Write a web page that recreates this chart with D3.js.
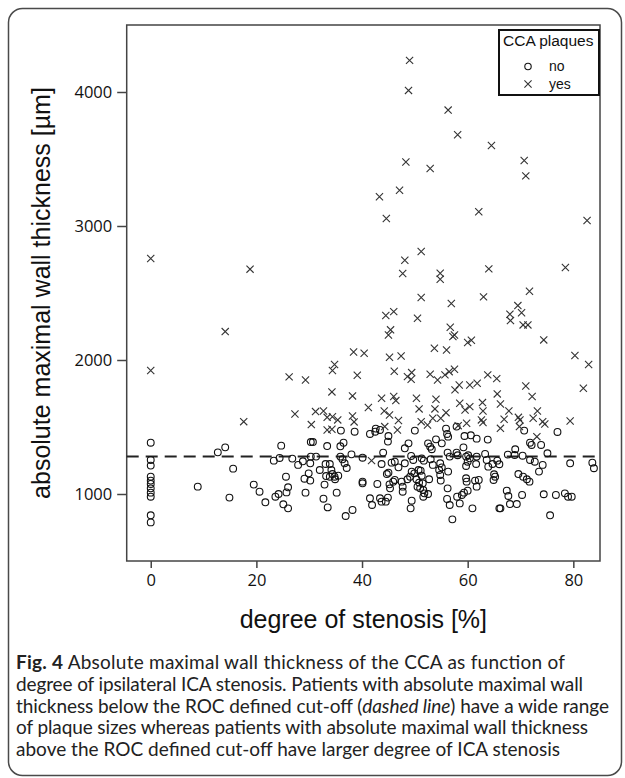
<!DOCTYPE html>
<html><head><meta charset="utf-8">
<script src="https://cdn.jsdelivr.net/npm/d3@7"></script>
<style>body{margin:0;background:#fff}</style>
</head><body>
<svg id="c" width="625" height="778"></svg>
<script>
const xTicks = [0, 20, 40, 60, 80];
const yTicks = [1000, 2000, 3000, 4000];
const cutoff = 1280;
const legendTitle = "CCA plaques";
const legendLabels = ["no", "yes"];
const xTitle = "degree of stenosis [%]";
const yTitle = "absolute maximal wall thickness [µm]";

// CCA plaques = no  [degree of stenosis %, wall thickness µm]
const plaqueNo = [
[0,1383],[0,1254],[0,1212],[0,1129],[0,1100],[0,1075],[0,1042],[0,1010],[0,980],[0,841],[0,788],
[8.9,1055],[12.7,1311],[14.1,1348],[15.6,1189],[14.9,973],[19.5,1070],[20.6,1017],[21.7,938],[23.6,980],
[24.2,1000],[25.1,923],[26.0,893],[25.7,1012],[26.0,1050],[25.6,1129],[23.3,1249],[24.4,1269],[24.7,1361],
[26.8,1264],[27.9,1217],[28.8,1244],[30.2,1229],[30.3,1279],[31.3,1279],[30.3,1388],[30.7,1388],[29.9,1154],
[29.1,1114],[30.2,1100],[29.3,1010],[32.0,1179],[33.1,1224],[33.9,1224],[33.4,1358],[34.2,1179],[33.2,1134],
[33.9,1129],[34.4,1149],[34.8,1129],[34.9,1110],[35.5,1137],[32.9,1070],[32.7,965],[33.5,900],[35.2,1010],
[36.0,1473],[36.5,1383],[35.9,1356],[35.9,1279],[36.3,1259],[36.7,1229],[37.1,1194],[38.0,1296],[38.6,1465],
[38.2,881],[36.9,836],
[42.6,1488],[42.5,1465],[41.5,1448],[43.4,1478],[45.0,1433],[44.9,1391],[50.0,1473],[55.9,1488],[56.1,1448],
[56.3,1428],[57.9,1503],[59.4,1433],[60.6,1438],[61.7,1413],[63.8,1406],[54.0,1408],[52.5,1378],[52.9,1353],
[53.2,1334],[55.1,1378],[48.8,1378],[48.1,1341],[70.7,1473],[71.8,1383],[72.1,1366],[73.9,1366],[77.0,1463],
[40.1,1271],[44.0,1309],[43.7,1224],[45.6,1234],[46.2,1241],[46.9,1199],[48.1,1229],[49.3,1284],[49.7,1254],
[51.3,1266],[51.7,1249],[53.0,1259],[53.4,1217],[54.8,1229],[55.1,1199],[54.6,1179],[56.2,1309],[56.6,1279],
[57.9,1309],[58.1,1289],[59.2,1348],[59.7,1279],[60.1,1289],[60.4,1266],[59.7,1209],[60.0,1241],[61.7,1279],
[61.6,1224],[63.3,1299],[63.6,1254],[63.9,1204],[64.7,1224],[65.6,1249],[66.0,1222],[67.6,1294],[69.0,1334],
[68.9,1291],[70.4,1286],[71.8,1254],[72.7,1241],[74.2,1217],[75.1,1304],[79.4,1229],[83.6,1234],[83.9,1192],
[44.7,1149],[45.0,1159],[46.2,1105],[47.5,1092],[48.6,1110],[49.4,1167],[49.1,1129],[49.9,1154],[50.7,1179],
[51.1,1174],[51.3,1137],[50.3,1110],[50.8,1085],[51.5,1080],[52.7,1110],[54.8,1142],[54.9,1100],[56.3,1167],
[59.7,1117],[59.8,1092],[61.4,1100],[62.1,1105],[61.7,1055],[65.0,1147],[65.2,1129],[64.9,1105],[69.6,1149],
[70.5,1129],[71.2,1110],[71.7,1092],[73.5,1167],[40.1,1092],[40.1,1080],[42.9,1075],[45.2,1072],[45.9,1092],
[45.3,1042],[47.7,1055],[47.7,1017],[50.5,1055],[51.0,1042],[51.6,1030],[51.8,1005],[52.5,1000],[51.6,980],
[49.4,950],[49.2,893],[41.5,968],[41.9,918],[43.4,968],[43.7,943],[44.5,943],[44.9,973],[56.2,1042],[56.1,963],
[56.6,918],[58.0,980],[58.5,930],[58.9,993],[59.3,1010],[60.0,1025],[60.9,893],[66.0,893],[66.2,893],[67.4,1025],
[67.7,985],[68.0,925],[69.3,925],[70.3,993],[74.4,998],[76.7,993],[78.4,1005],[79.0,980],[79.7,980],[75.6,841],
[57.1,811]
];

// CCA plaques = yes
const plaqueYes = [
[49.0,4236],[48.8,4012],[56.3,3865],[58.1,3681],[64.5,3601],[48.3,3477],[52.9,3429],[70.7,3489],[71.0,3374],
[47.1,3267],[43.3,3218],[44.6,3056],[62.1,3106],[82.6,3041],[0,2757],[18.8,2678],[51.2,2810],[48.1,2745],
[47.7,2645],[54.8,2648],[54.8,2603],[64.0,2680],[78.5,2690],[51.2,2466],[56.9,2421],[63.0,2471],[71.7,2513],
[69.5,2406],[70.2,2352],[68.0,2342],[68.1,2294],[70.5,2262],[71.4,2262],[44.5,2332],[46.0,2361],[50.5,2312],
[56.7,2245],[57.5,2187],[57.2,2175],[45.4,2225],[45.0,2187],[14.1,2212],
[60.0,2130],[60.7,2148],[74.4,2150],[45.2,2020],[47.4,2030],[53.7,2088],[56.0,2075],[80.3,2033],[82.9,1966],
[81.9,1789],[46.1,1916],[48.6,1876],[49.4,1906],[49.3,1856],[52.9,1894],[54.3,1851],[55.7,1889],[56.5,1913],
[57.5,1931],[57.6,1777],[58.4,1814],[60.4,1814],[61.8,1826],[63.8,1889],[65.5,1861],[71.0,1806],[72.2,1727],
[65.6,1747],[66.2,1672],[67.8,1620],[66.9,1558],[66.2,1490],[69.6,1572],[69.9,1553],[69.8,1503],[72.4,1565],
[73.2,1620],[74.2,1540],[74.6,1523],[73.1,1428],[79.4,1545],[43.7,1714],[41.2,1645],[46.0,1727],[46.4,1697],
[50.3,1714],[50.8,1635],[54.0,1707],[53.8,1635],[55.9,1607],[58.5,1677],[59.5,1627],[60.4,1652],[62.8,1682],
[62.9,1620],[62.6,1553],[62.9,1533],[44.2,1620],[45.2,1590],[46.9,1548],[44.3,1503],[46.7,1478],[51.2,1540],
[52.4,1515],[53.4,1565],[54.9,1565],[58.2,1510],[59.8,1528],[41.8,1249],
[0,1921],[38.4,2060],[40.4,2050],[34.8,1966],[34.4,1921],[39.1,1886],[26.2,1874],[29.3,1851],[34.3,1762],
[38.2,1732],[27.3,1597],[31.2,1615],[32.7,1620],[33.4,1572],[34.4,1577],[35.4,1553],[38.2,1582],[38.5,1538],
[17.6,1540],[30.4,1518],[33.4,1478],[34.3,1483]
];

const captionLines = [
  [{t:"Fig. 4", b:true},{t:" Absolute maximal wall thickness of the CCA as function of"}],
  [{t:"degree of ipsilateral ICA stenosis. Patients with absolute maximal wall"}],
  [{t:"thickness below the ROC defined cut-off ("},{t:"dashed line", i:true},{t:") have a wide range"}],
  [{t:"of plaque sizes whereas patients with absolute maximal wall thickness"}],
  [{t:"above the ROC defined cut-off have larger degree of ICA stenosis"}]
];
const captionWidths = [549, 567, 593, 572, 544];

const svg = d3.select("#c");
const L = 126.7, R = 600, T = 25, B = 561;
const x = d3.scaleLinear().domain([-4.55, 85.05]).range([L, R]);
const y = d3.scaleLinear().domain([500, 4500]).range([B, T]);

// card
svg.append("rect").attr("x", 8.5).attr("y", 8.5).attr("width", 613).attr("height", 767)
  .attr("rx", 14).attr("fill", "none").attr("stroke", "#4a4a4a").attr("stroke-width", 1.5);

// axes
const ya = svg.append("g").attr("transform", `translate(${L},0)`)
  .call(d3.axisLeft(y).tickValues(yTicks).tickSize(9.5).tickPadding(5).tickFormat(d3.format("d")));
const xa = svg.append("g").attr("transform", `translate(0,${B})`)
  .call(d3.axisBottom(x).tickValues(xTicks).tickSize(7).tickPadding(6).tickFormat(d3.format("d")));
[ya, xa].forEach(g => {
  g.select(".domain").remove();
  g.selectAll(".tick line").attr("stroke", "#444").attr("stroke-width", 1.5);
  g.selectAll(".tick text").attr("fill", "#111").style("font-family", "'Open Sans', sans-serif").style("font-size", "16.5px");
});

// frame
svg.append("rect").attr("x", L).attr("y", T).attr("width", R - L).attr("height", B - T)
  .attr("fill", "none").attr("stroke", "#444").attr("stroke-width", 1.5);

// cutoff line
svg.append("line").attr("x1", L).attr("x2", R).attr("y1", y(cutoff)).attr("y2", y(cutoff))
  .attr("stroke", "#222").attr("stroke-width", 2).attr("stroke-dasharray", "12,7");

// points
const gp = svg.append("g");
gp.selectAll("circle.no").data(plaqueNo).join("circle").attr("class", "no")
  .attr("cx", d => x(d[0])).attr("cy", d => y(d[1])).attr("r", 3.4)
  .attr("fill", "none").attr("stroke", "#111").attr("stroke-width", 1.1);
const s = 3.6;
gp.selectAll("path.yes").data(plaqueYes).join("path").attr("class", "yes")
  .attr("d", d => { const cx = x(d[0]), cy = y(d[1]);
    return `M${cx-s},${cy-s}L${cx+s},${cy+s}M${cx-s},${cy+s}L${cx+s},${cy-s}`; })
  .attr("stroke", "#333").attr("stroke-width", 1.1).attr("fill", "none");

// legend
const lg = svg.append("g");
lg.append("rect").attr("x", 499).attr("y", 30).attr("width", 100).attr("height", 65)
  .attr("fill", "#fff").attr("stroke", "#111").attr("stroke-width", 2);
lg.append("text").attr("x", 503).attr("y", 46).text(legendTitle)
  .style("font-family", "'Liberation Sans', Arial, sans-serif").style("font-size", "15.5px").attr("fill", "#111");
lg.append("circle").attr("cx", 528).attr("cy", 66.5).attr("r", 3.2).attr("fill", "none").attr("stroke", "#111").attr("stroke-width", 1.1);
lg.append("path").attr("d", `M${528-s},${84-s}L${528+s},${84+s}M${528-s},${84+s}L${528+s},${84-s}`)
  .attr("stroke", "#333").attr("stroke-width", 1.1);
legendLabels.forEach((t, i) => lg.append("text").attr("x", 549).attr("y", 71 + i * 17.5).text(t)
  .style("font-family", "'Liberation Sans', Arial, sans-serif").style("font-size", "14px").attr("fill", "#111"));

// axis titles
svg.append("text").attr("x", (L + R) / 2).attr("y", 628).attr("text-anchor", "middle").text(xTitle)
  .style("font-family", "'Liberation Sans', Arial, sans-serif").style("font-size", "25px").attr("fill", "#111");
svg.append("text").attr("transform", `translate(50,${(T + B) / 2}) rotate(-90)`).attr("text-anchor", "middle").text(yTitle)
  .style("font-family", "'Liberation Sans', Arial, sans-serif").style("font-size", "25px").attr("fill", "#111");

// caption
captionLines.forEach((line, i) => {
  const t = svg.append("text").attr("x", 16).attr("y", 669 + i * 21.8)
    .attr("textLength", captionWidths[i]).attr("lengthAdjust", "spacing")
    .style("font-family", "Lato, sans-serif").style("font-size", "19px").attr("fill", "#222");
  line.forEach(seg => {
    const ts = t.append("tspan").text(seg.t);
    if (seg.b) ts.style("font-weight", "bold");
    if (seg.i) ts.style("font-style", "italic");
  });
});
</script>
</body></html>
